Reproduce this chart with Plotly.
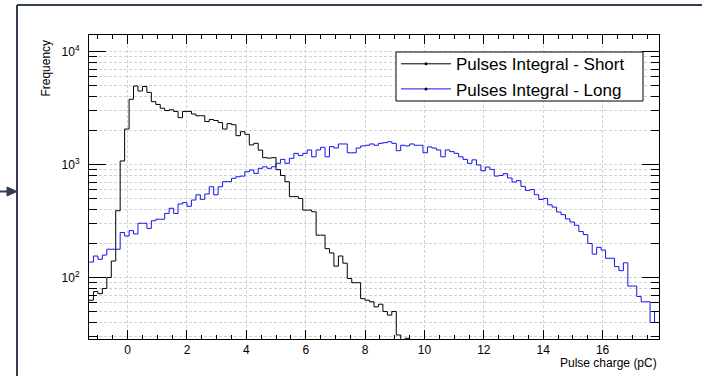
import plotly.graph_objects as go

# ---- data ----
BIN_LO = -1.3
BIN_W = 0.15

short_counts = [
    63, 75, 72, 80, 100, 140, 390, 1075, 2060, 3780,
    4950, 4470, 4900, 4350, 3600, 3400, 3150, 3000, 3050, 2950,
    2600, 2950, 2950, 2800, 2700, 2700, 2400, 2500, 2450, 2350,
    2060, 2300, 2250, 1800, 1950, 1850, 1490, 1540, 1340, 1150,
    1140, 1150, 900, 800, 705, 520, 520, 500, 395, 395,
    382, 237, 237, 180, 165, 126, 155, 134, 98, 90,
    90, 65, 63, 61, 55, 58, 50, 46.5, 50, 31,
    22, 29, 18,
]

long_counts = [
    137, 155, 145, 158, 178, 178, 178, 250, 233, 260,
    243, 302, 302, 272, 318, 328, 328, 369, 410, 369,
    447, 460, 427, 485, 539, 492, 548, 636, 539, 636,
    705, 705, 755, 780, 790, 863, 893, 835, 925, 955,
    925, 955, 1025, 1110, 1025, 1135, 1255, 1200, 1255, 1345,
    1170, 1345, 1420, 1170, 1440, 1400, 1520, 1520, 1270, 1270,
    1400, 1460, 1480, 1520, 1480, 1540, 1560, 1590, 1540, 1325,
    1480, 1460, 1520, 1480, 1480, 1270, 1430, 1400, 1345, 1170,
    1345, 1300, 1255, 1170, 1110, 1025, 1100, 990, 880, 950,
    905, 790, 800, 830, 760, 700, 720, 640, 590, 600,
    540, 490, 500, 440, 420, 380, 360, 330, 310, 290,
    255, 240, 200, 161, 185, 175, 148, 148, 125, 115,
    135, 84, 84, 68, 61, 61, 40, 50,
]

series_names = ["Pulses Integral - Short", "Pulses Integral - Long"]
x_ticks = [0, 2, 4, 6, 8, 10, 12, 14, 16]
y_major = [100, 1000, 10000]
y_major_text = ["10<sup>2</sup>", "10<sup>3</sup>", "10<sup>4</sup>"]
y_minor = [m * 10 ** e for e in (1, 2, 3, 4) for m in range(2, 10)]


def step_xy(counts):
    xs = [BIN_LO + BIN_W * i for i in range(len(counts) + 1)]
    ys = list(counts) + [counts[-1]]
    return xs, ys


FONT = "Liberation Sans, Arial, sans-serif"
FRAME = "#353d50"
GRID = "#d2d2d2"

fig = go.Figure()
for counts, name, color in [(short_counts, series_names[0], "black"),
                            (long_counts, series_names[1], "#1515e8")]:
    xs, ys = step_xy(counts)
    fig.add_trace(go.Scatter(x=xs, y=ys, mode="lines", line=dict(color=color, width=1, shape="hv"),
                             showlegend=False, hoverinfo="skip"))
    fig.add_trace(go.Scatter(x=[None], y=[None], mode="lines+markers", name=name,
                             line=dict(color=color, width=1),
                             marker=dict(color="black", size=3)))

fig.update_layout(
    width=702, height=376,
    margin=dict(l=89, r=43, t=35, b=37),
    paper_bgcolor="white", plot_bgcolor="white",
    font=dict(family=FONT, size=12, color="black"),
    legend=dict(x=0.5386, y=0.963, xanchor="left", yanchor="top",
                bgcolor="rgba(0,0,0,0)", borderwidth=0, itemwidth=50,
                font=dict(size=17, family=FONT), tracegroupgap=0),
    xaxis=dict(range=[-1.3, 17.9], tickvals=x_ticks, ticks="inside", ticklen=9,
               tickcolor="black", showline=True, linecolor="black", linewidth=1,
               mirror="allticks", showgrid=True, gridcolor=GRID, griddash="3px,2px",
               zeroline=False, tickfont=dict(size=12),
               minor=dict(dtick=0.5, tick0=0, ticks="inside", ticklen=4, tickcolor="black",
                          showgrid=False)),
    yaxis=dict(type="log", range=[1.456, 4.146], tickvals=y_major, ticktext=y_major_text,
               ticks="inside", ticklen=17, tickcolor="black", showline=True,
               linecolor="black", linewidth=1, mirror="allticks", showgrid=True,
               gridcolor=GRID, griddash="3px,2px", zeroline=False,
               ticklabelstandoff=6, tickfont=dict(size=12),
               minor=dict(tickmode="array", tickvals=y_minor, ticks="inside", ticklen=8,
                          tickcolor="black", showgrid=True, gridcolor=GRID,
                          griddash="3px,2px")),
)

fig.add_annotation(text="Frequency", xref="paper", yref="paper", x=-0.076, y=0.992,
                   xanchor="center", yanchor="top", textangle=-90, showarrow=False,
                   font=dict(size=12, family=FONT))
fig.add_annotation(text="Pulse charge (pC)", xref="paper", yref="paper", x=1.0, y=-0.079,
                   xanchor="right", yanchor="middle", showarrow=False,
                   font=dict(size=12, family=FONT))


# decoration helpers (pixel -> paper)
def px(x):
    return (x - 89) / 570.0


def py(y):
    return 1 - (y - 35) / 304.0


# legend box
fig.add_shape(type="rect", xref="paper", yref="paper", x0=px(396), x1=px(643), y0=py(52), y1=py(101),
              fillcolor="white", line=dict(color="black", width=1), layer="above")

# outer frame and arrow
fig.add_shape(type="line", xref="paper", yref="paper", x0=px(17), x1=px(710), y0=py(5), y1=py(5),
              line=dict(color=FRAME, width=2))
fig.add_shape(type="line", xref="paper", yref="paper", x0=px(17), x1=px(17), y0=py(5), y1=py(380),
              line=dict(color=FRAME, width=2))
fig.add_shape(type="line", xref="paper", yref="paper", x0=px(-2), x1=px(9), y0=py(191.5), y1=py(191.5),
              line=dict(color=FRAME, width=2))
fig.add_shape(type="path", xref="paper", yref="paper",
              path=f"M {px(7)} {py(187)} L {px(17)} {py(191.5)} L {px(7)} {py(196)} Z",
              fillcolor=FRAME, line=dict(color=FRAME, width=1))

fig.write_html("out.html", config={"displayModeBar": False},
               post_script="document.body.style.margin='0';document.body.style.overflow='hidden';")
